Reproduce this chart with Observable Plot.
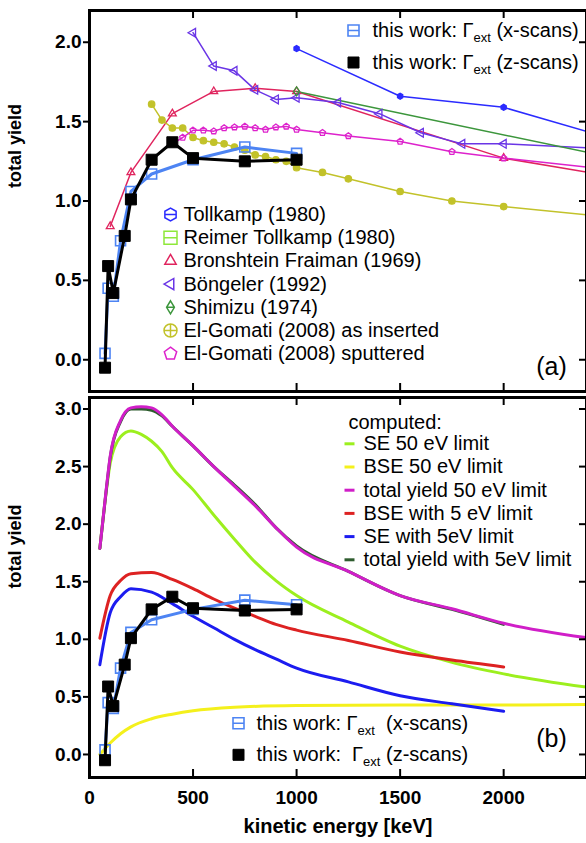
<!DOCTYPE html>
<html>
<head>
<meta charset="utf-8">
<script src="https://cdn.jsdelivr.net/npm/d3@7"></script>
<script src="https://cdn.jsdelivr.net/npm/@observablehq/plot@0.6"></script>
<style>
  body { margin: 0; background: #fff; }
  #chart { width: 586px; height: 843px; position: relative; overflow: hidden; }
  #chart svg { display: block; }
  svg text { white-space: pre; }
</style>
</head>
<body>
<div id="chart"></div>
<script>
// ---------- tick values ----------
const xTicks = [0, 500, 1000, 1500, 2000];
const xInnerTicks = [500, 1000, 1500, 2000];
const yTicksA = [0, 0.5, 1.0, 1.5, 2.0];
const yTicksB = [0, 0.5, 1.0, 1.5, 2.0, 2.5, 3.0];

// ---------- this work ----------
const xScanEnergy = [75, 90, 115, 150, 200, 300, 500, 750, 1000];
const xScanYield  = [0.04, 0.45, 0.40, 0.75, 1.06, 1.17, 1.26, 1.34, 1.30];
const zScanEnergy = [75, 90, 115, 170, 200, 300, 400, 500, 750, 1000];
const zScanYield  = [-0.05, 0.59, 0.42, 0.78, 1.01, 1.26, 1.37, 1.27, 1.25, 1.26];

// ---------- literature (panel a) ----------
const tollkampEnergy = [1000, 1500, 2000, 2500];
const tollkampYield  = [1.96, 1.66, 1.59, 1.40];
const bronshteinEnergy = [100, 200, 400, 600, 800, 1000, 2000, 2500];
const bronshteinYield  = [0.84, 1.18, 1.55, 1.69, 1.71, 1.69, 1.27, 1.16];
const bongelerEnergy = [500, 600, 700, 800, 900, 1000, 1200, 1400, 1600, 1800, 2000, 2500];
const bongelerYield  = [2.06, 1.85, 1.82, 1.70, 1.64, 1.65, 1.62, 1.55, 1.43, 1.36, 1.36, 1.33];
const shimizuEnergy = [1000, 2500];
const shimizuYield  = [1.69, 1.28];
const gomatiInsEnergy = [300, 350, 400, 450, 500, 550, 600, 650, 700, 750, 800, 850, 900, 950, 1000, 1125, 1250, 1500, 1750, 2000, 2500];
const gomatiInsYield  = [1.61, 1.51, 1.46, 1.46, 1.40, 1.38, 1.37, 1.36, 1.34, 1.32, 1.29, 1.28, 1.26, 1.25, 1.21, 1.18, 1.14, 1.06, 1.00, 0.965, 0.90];
const gomatiSputEnergy = [400, 450, 500, 550, 600, 650, 700, 750, 800, 850, 900, 950, 1000, 1125, 1250, 1500, 1750, 2000, 2500];
const gomatiSputYield  = [1.36, 1.40, 1.445, 1.445, 1.44, 1.46, 1.465, 1.47, 1.46, 1.45, 1.465, 1.47, 1.45, 1.43, 1.41, 1.375, 1.31, 1.27, 1.20];

const litLabels = ["Tollkamp (1980)", "Reimer Tollkamp (1980)", "Bronshtein Fraiman (1969)", "Böngeler (1992)", "Shimizu (1974)", "El-Gomati (2008) as inserted", "El-Gomati (2008) sputtered"];
const litColors = ["#2b2bff", "#8ee83a", "#e0245e", "#6a35e6", "#3c963c", "#c2c22a", "#dd22cc"];

// ---------- computed (panel b) ----------
const se50Energy = [50, 80, 100, 150, 200, 250, 300, 350, 400, 500, 600, 700, 800, 900, 1000, 1250, 1500, 1750, 2000, 2500];
const se50Yield  = [1.79, 2.27, 2.53, 2.76, 2.81, 2.78, 2.72, 2.63, 2.49, 2.30, 2.08, 1.87, 1.67, 1.51, 1.38, 1.15, 0.94, 0.80, 0.70, 0.56];
const bse50Energy = [50, 100, 150, 200, 300, 400, 500, 700, 1000, 1500, 2000, 2500];
const bse50Yield  = [0.00, 0.10, 0.18, 0.24, 0.31, 0.35, 0.38, 0.41, 0.425, 0.43, 0.43, 0.435];
const tot50Energy = [50, 80, 100, 150, 200, 250, 300, 350, 400, 500, 600, 700, 800, 900, 1000, 1250, 1500, 1750, 2000, 2500];
const tot50Yield  = [1.79, 2.29, 2.59, 2.90, 3.01, 3.02, 3.01, 2.95, 2.85, 2.68, 2.50, 2.33, 2.16, 1.97, 1.80, 1.59, 1.38, 1.265, 1.14, 0.99];
const bse5Energy = [50, 100, 150, 200, 300, 400, 500, 600, 700, 800, 900, 1000, 1250, 1500, 1750, 2000];
const bse5Yield  = [1.01, 1.38, 1.51, 1.57, 1.58, 1.52, 1.44, 1.35, 1.27, 1.20, 1.13, 1.08, 0.99, 0.89, 0.82, 0.76];
const se5Energy = [50, 100, 150, 200, 300, 400, 500, 600, 700, 800, 900, 1000, 1250, 1500, 1750, 2000];
const se5Yield  = [0.78, 1.23, 1.37, 1.44, 1.41, 1.31, 1.20, 1.10, 1.00, 0.91, 0.83, 0.75, 0.63, 0.51, 0.44, 0.375];
const tot5Energy = [50, 80, 100, 150, 200, 250, 300, 350, 400, 500, 600, 700, 800, 900, 1000, 1250, 1500, 1750, 2000];
const tot5Yield  = [1.79, 2.28, 2.58, 2.89, 3.00, 3.00, 2.99, 2.94, 2.85, 2.68, 2.50, 2.34, 2.17, 1.97, 1.81, 1.59, 1.38, 1.26, 1.13];

const compLabels = ["SE 50 eV limit", "BSE 50 eV limit", "total yield 50 eV limit", "BSE with 5 eV limit", "SE with 5eV limit", "total yield with 5eV limit"];
const compColors = ["#9cef1e", "#f4f01c", "#d01ec8", "#dd2222", "#1c1cf0", "#2e5c2e"];

const xScanColor = "#4d84f3";
const xScanLabel = "this work: Γext (x-scans)";
const zScanLabel = "this work: Γext (z-scans)";

// ---------- helpers ----------
const pts = (xs, ys) => xs.map((x, i) => ({x, y: ys[i]}));
function makeSymbol(draw) { return {draw(ctx, size) { draw(ctx, Math.sqrt(size / Math.PI)); }}; }
const symSquare = makeSymbol((c, r) => { c.moveTo(-r, -r); c.lineTo(r, -r); c.lineTo(r, r); c.lineTo(-r, r); c.closePath(); });
const symSquareBar = makeSymbol((c, r) => { c.moveTo(-r, -r); c.lineTo(r, -r); c.lineTo(r, r); c.lineTo(-r, r); c.closePath(); c.moveTo(-r, 0); c.lineTo(r, 0); });
const symHexBar = makeSymbol((c, r) => {
  for (let i = 0; i < 6; i++) { const a = Math.PI / 6 + i * Math.PI / 3; const px = r * Math.cos(a), py = r * Math.sin(a); i ? c.lineTo(px, py) : c.moveTo(px, py); }
  c.closePath(); c.moveTo(-0.87 * r, 0); c.lineTo(0.87 * r, 0);
});
const symTriUp = makeSymbol((c, r) => { c.moveTo(0, -r); c.lineTo(0.87 * r, 0.5 * r); c.lineTo(-0.87 * r, 0.5 * r); c.closePath(); });
const symTriLeft = makeSymbol((c, r) => { c.moveTo(-r, 0); c.lineTo(0.5 * r, -0.87 * r); c.lineTo(0.5 * r, 0.87 * r); c.closePath(); });
const symDiamondBar = makeSymbol((c, r) => { c.moveTo(0, -r); c.lineTo(0.6 * r, 0); c.lineTo(0, r); c.lineTo(-0.6 * r, 0); c.closePath(); c.moveTo(-0.6 * r, 0); c.lineTo(0.6 * r, 0); });
const symDiamond = makeSymbol((c, r) => { c.moveTo(0, -r); c.lineTo(0.7 * r, 0); c.lineTo(0, r); c.lineTo(-0.7 * r, 0); c.closePath(); });
const symCircle = makeSymbol((c, r) => { c.moveTo(r, 0); c.arc(0, 0, r, 0, 2 * Math.PI); });
const symCirclePlus = makeSymbol((c, r) => { c.moveTo(r, 0); c.arc(0, 0, r, 0, 2 * Math.PI); c.moveTo(-r, 0); c.lineTo(r, 0); c.moveTo(0, -r); c.lineTo(0, r); });
const symPentagon = makeSymbol((c, r) => {
  for (let i = 0; i < 5; i++) { const a = -Math.PI / 2 + i * 2 * Math.PI / 5; const px = r * Math.cos(a), py = r * Math.sin(a); i ? c.lineTo(px, py) : c.moveTo(px, py); }
  c.closePath();
});
const symDash = makeSymbol((c, r) => { c.moveTo(-r, 0); c.lineTo(r, 0); });

const litLegendSymbols = [symHexBar, symSquareBar, symTriUp, symTriLeft, symDiamondBar, symCirclePlus, symPentagon];

const W = 586, ML = 89, MR = 0;
const PW = W - ML - MR;
const font = "'Liberation Sans', Arial, Helvetica, sans-serif";

function legendText(anchor, dx, dy, label, extra = {}) {
  return Plot.text([label], {text: d => d, frameAnchor: anchor, dx, dy, textAnchor: "start", lineAnchor: "middle", fontSize: 20, ...extra});
}
function legendDot(anchor, dx, dy, symbol, stroke, fill, r, strokeWidth) {
  return Plot.dot([0], {frameAnchor: anchor, dx, dy, symbol, stroke, fill, r, strokeWidth});
}
function axisFrame(yTicks, PH) {
  return [
    Plot.frame({stroke: "black", strokeWidth: 3}),
    Plot.axisY({anchor: "left", ticks: yTicks, tickFormat: d3.format(".1f"), tickSize: 6, tickPadding: 2, strokeWidth: 2, fontSize: 19, fontWeight: "bold", label: null}),
    Plot.tickY(yTicks, {y: d => d, insetLeft: PW - 7, stroke: "black", strokeWidth: 2}),
    Plot.tickX(xInnerTicks, {x: d => d, insetBottom: PH - 8, stroke: "black", strokeWidth: 2}),
    Plot.tickX(xInnerTicks, {x: d => d, insetTop: PH - 8, stroke: "black", strokeWidth: 2})
  ];
}
function thisWorkMarks() {
  const xs = pts(xScanEnergy, xScanYield), zs = pts(zScanEnergy, zScanYield);
  return [
    Plot.line(xs, {x: "x", y: "y", stroke: xScanColor, strokeWidth: 3}),
    Plot.dot(xs, {x: "x", y: "y", symbol: symSquare, r: 5, stroke: xScanColor, fill: "none", strokeWidth: 1.6}),
    Plot.line(zs, {x: "x", y: "y", stroke: "black", strokeWidth: 3}),
    Plot.dot(zs, {x: "x", y: "y", symbol: symSquare, r: 5.5, stroke: "black", fill: "black", strokeWidth: 1})
  ];
}
function addSubscripts(svg) {
  d3.select(svg).selectAll("text").each(function () {
    const node = d3.select(this);
    if (node.selectAll("tspan").size() > 0) return;
    const t = this.textContent;
    const i = t.indexOf("Γext");
    if (i < 0) return;
    node.text(null);
    node.append("tspan").text(t.slice(0, i + 1));
    node.append("tspan").attr("dy", 5).attr("font-size", 13).text("ext");
    node.append("tspan").attr("dy", -5).text(t.slice(i + 4));
  });
}

// ---------- panel (a) ----------
const topH = 394, topMT = 10, topMB = 3, topPH = topH - topMT - topMB;
const litSeries = [
  {data: pts(tollkampEnergy, tollkampYield), color: litColors[0], symbol: symHexBar, r: 3, fill: litColors[0]},
  {data: pts(bronshteinEnergy, bronshteinYield), color: litColors[2], symbol: symTriUp, r: 4.5, fill: "none"},
  {data: pts(bongelerEnergy, bongelerYield), color: litColors[3], symbol: symTriLeft, r: 5, fill: "none"},
  {data: pts(shimizuEnergy, shimizuYield), color: litColors[4], symbol: symDiamond, r: 4.5, fill: "none"},
  {data: pts(gomatiInsEnergy, gomatiInsYield), color: litColors[5], symbol: symCircle, r: 3.2, fill: litColors[5]},
  {data: pts(gomatiSputEnergy, gomatiSputYield), color: litColors[6], symbol: symPentagon, r: 3.2, fill: "none"}
];
const topPlot = Plot.plot({
  width: W, height: topH, marginLeft: ML, marginRight: MR, marginTop: topMT, marginBottom: topMB,
  style: {fontFamily: font, color: "black", background: "white"},
  x: {domain: [0, 2400], axis: null, label: null},
  y: {domain: [-0.2, 2.2], label: null},
  marks: [
    ...litSeries.map(s => Plot.line(s.data, {x: "x", y: "y", stroke: s.color, strokeWidth: 1.5, clip: true})),
    ...litSeries.map(s => Plot.dot(s.data, {x: "x", y: "y", symbol: s.symbol, r: s.r, stroke: s.color, fill: s.fill, strokeWidth: 1.3, clip: true})),
    ...thisWorkMarks(),
    ...axisFrame(yTicksA, topPH),
    Plot.text(["total yield"], {text: d => d, frameAnchor: "left", rotate: -90, dx: -74, dy: -13, fontSize: 18, fontWeight: "bold"}),
    legendDot("top-right", -233, 20, symSquareBar, xScanColor, "none", 5.5, 1.6),
    legendDot("top-right", -233, 52, symSquare, "black", "black", 5.5, 1),
    legendText("top-right", -214, 20, xScanLabel),
    legendText("top-right", -214, 52, zScanLabel),
    ...litLabels.map((lab, i) => legendDot("top-left", 81, 204 + i * 23.2, litLegendSymbols[i], litColors[i], "none", 6.5, 1.5)),
    ...litLabels.map((lab, i) => legendText("top-left", 94, 204 + i * 23.2, lab)),
    Plot.text(["(a)"], {text: d => d, frameAnchor: "bottom-right", dx: -35, dy: -25, fontSize: 25, textAnchor: "middle", lineAnchor: "middle"})
  ]
});

// ---------- panel (b) ----------
const botH = 449, botMT = 3, botMB = 66, botPH = botH - botMT - botMB;
const compSeries = [
  {data: pts(se50Energy, se50Yield), color: compColors[0]},
  {data: pts(bse50Energy, bse50Yield), color: compColors[1]},
  {data: pts(tot5Energy, tot5Yield), color: compColors[5]},
  {data: pts(tot50Energy, tot50Yield), color: compColors[2]},
  {data: pts(bse5Energy, bse5Yield), color: compColors[3]},
  {data: pts(se5Energy, se5Yield), color: compColors[4]}
];
const botPlot = Plot.plot({
  width: W, height: botH, marginLeft: ML, marginRight: MR, marginTop: botMT, marginBottom: botMB,
  style: {fontFamily: font, color: "black", background: "white"},
  x: {domain: [0, 2400], label: null},
  y: {domain: [-0.2, 3.1], label: null},
  marks: [
    ...compSeries.map(s => Plot.line(s.data, {x: "x", y: "y", stroke: s.color, strokeWidth: 3, curve: "monotone-x", clip: true})),
    ...thisWorkMarks(),
    ...axisFrame(yTicksB, botPH),
    Plot.axisX({anchor: "bottom", ticks: xTicks, tickFormat: d3.format("d"), tickSize: 0, tickPadding: 13, fontSize: 19, fontWeight: "bold", label: null}),
    Plot.text(["kinetic energy [keV]"], {text: d => d, frameAnchor: "bottom", dy: 49, fontSize: 20, fontWeight: "bold", lineAnchor: "middle"}),
    Plot.text(["total yield"], {text: d => d, frameAnchor: "left", rotate: -90, dx: -74, dy: 1, fontSize: 18, fontWeight: "bold"}),
    legendText("top-right", -238, 24.7, "computed:"),
    ...compLabels.map((lab, i) => legendDot("top-right", -237, 46.3 + i * 23.2, symDash, compColors[i], "none", 5, 3)),
    ...compLabels.map((lab, i) => legendText("top-right", -223, 46.3 + i * 23.2, lab)),
    legendDot("bottom-left", 149, -54.3, symSquareBar, xScanColor, "none", 5.5, 1.6),
    legendDot("bottom-left", 149, -22.7, symSquare, "black", "black", 5.5, 1),
    legendText("bottom-left", 167, -54.3, "this work: Γext  (x-scans)"),
    legendText("bottom-left", 167, -22.7, "this work:  Γext (z-scans)"),
    Plot.text(["(b)"], {text: d => d, frameAnchor: "bottom-right", dx: -35, dy: -39, fontSize: 25, textAnchor: "middle", lineAnchor: "middle"})
  ]
});

addSubscripts(topPlot);
addSubscripts(botPlot);
const chart = document.getElementById("chart");
chart.appendChild(topPlot);
chart.appendChild(botPlot);
</script>
</body>
</html>
